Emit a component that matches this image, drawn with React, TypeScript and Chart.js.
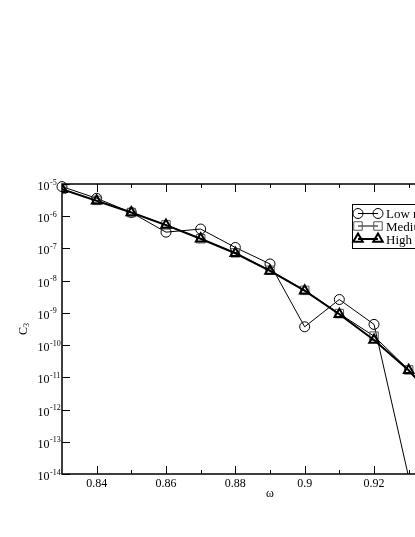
import React, { useEffect, useRef } from "react";
import { Chart, registerables } from "chart.js";

Chart.register(...registerables);

// ---- data ----
const omegaLow = [0.83, 0.84, 0.85, 0.86, 0.87, 0.88, 0.89, 0.9, 0.91, 0.92, 0.93];
const omegaMedHigh = [0.83, 0.84, 0.85, 0.86, 0.87, 0.88, 0.89, 0.9, 0.91, 0.92, 0.93, 0.94];
const lowRes = [8.3e-6, 3.6e-6, 1.3e-6, 3.2e-7, 4.0e-7, 1.07e-7, 3.3e-8, 3.7e-10, 2.6e-9, 4.4e-10, 8e-15];
const mediumRes = [6.9e-6, 3.1e-6, 1.3e-6, 5.4e-7, 2.0e-7, 7.3e-8, 2.1e-8, 5.0e-9, 9.5e-10, 1.9e-10, 1.7e-11, 1.2e-12];
const highRes = [6.9e-6, 3.0e-6, 1.3e-6, 5.3e-7, 2.0e-7, 7.1e-8, 2.0e-8, 4.9e-9, 9.1e-10, 1.45e-10, 1.66e-11, 1.1e-12];
const seriesLabels = ["Low resolution", "Medium resolution", "High resolution"];
const xMajorTicks = [0.84, 0.86, 0.88, 0.9, 0.92, 0.94];
const xMajorLabels = ["0.84", "0.86", "0.88", "0.9", "0.92", "0.94"];
const xMinorTicks = [0.85, 0.87, 0.89, 0.91, 0.93];
const yExponents = [-5, -6, -7, -8, -9, -10, -11, -12, -13, -14];
const xTitle = "ω";
const yTitle = "C";
const yTitleSub = "3";

const X_MIN = 0.83;
const X_MAX = 0.95;
const Y_MIN = 1e-14;
const Y_MAX = 1e-5;

const SERIF = '"Liberation Serif", "Times New Roman", serif';

function toPoints(xs: number[], ys: number[]) {
  return xs.map((x, i) => ({ x, y: ys[i] }));
}

function drawMarker(ctx: CanvasRenderingContext2D, style: string, x: number, y: number) {
  ctx.beginPath();
  if (style === "circle") {
    ctx.lineWidth = 1;
    ctx.strokeStyle = "#000";
    ctx.arc(x, y, 5, 0, Math.PI * 2);
  } else if (style === "rect") {
    ctx.lineWidth = 1;
    ctx.strokeStyle = "#555";
    const s = 6 * Math.SQRT1_2;
    ctx.rect(x - s, y - s, 2 * s, 2 * s);
  } else {
    ctx.lineWidth = 2;
    ctx.strokeStyle = "#000";
    const r = 5.5;
    ctx.moveTo(x, y - r);
    ctx.lineTo(x + 0.866 * r, y + 0.5 * r);
    ctx.lineTo(x - 0.866 * r, y + 0.5 * r);
    ctx.closePath();
  }
  ctx.stroke();
}

const framePlugin = {
  id: "xmgraceFrame",
  afterDraw(chart: any) {
    const ctx: CanvasRenderingContext2D = chart.ctx;
    const { left, right, top, bottom } = chart.chartArea;
    const xs = chart.scales.x;
    const ys = chart.scales.y;
    ctx.save();

    // frame
    ctx.strokeStyle = "#000";
    ctx.lineWidth = 1.5;
    ctx.strokeRect(left, top, right - left, bottom - top);

    // ticks
    ctx.lineWidth = 1;
    ctx.beginPath();
    xMajorTicks.forEach((v) => {
      const px = Math.round(xs.getPixelForValue(v)) + 0.5;
      ctx.moveTo(px, bottom);
      ctx.lineTo(px, bottom - 8);
      ctx.moveTo(px, top);
      ctx.lineTo(px, top + 8);
    });
    xMinorTicks.forEach((v) => {
      const px = Math.round(xs.getPixelForValue(v)) + 0.5;
      ctx.moveTo(px, bottom);
      ctx.lineTo(px, bottom - 4);
      ctx.moveTo(px, top);
      ctx.lineTo(px, top + 4);
    });
    yExponents.forEach((e) => {
      const py = Math.round(ys.getPixelForValue(Math.pow(10, e))) + 0.5;
      ctx.moveTo(left, py);
      ctx.lineTo(left + 8, py);
      ctx.moveTo(right, py);
      ctx.lineTo(right - 8, py);
    });
    ctx.stroke();

    // x tick labels
    ctx.fillStyle = "#000";
    ctx.font = `12px ${SERIF}`;
    ctx.textAlign = "center";
    ctx.textBaseline = "alphabetic";
    xMajorTicks.forEach((v, i) => {
      ctx.fillText(xMajorLabels[i], xs.getPixelForValue(v), bottom + 13);
    });

    // y tick labels 10^e
    yExponents.forEach((e) => {
      const py = ys.getPixelForValue(Math.pow(10, e));
      ctx.font = `12px ${SERIF}`;
      ctx.textAlign = "right";
      ctx.fillText("10", 49.5, py + 6);
      ctx.font = `8px ${SERIF}`;
      ctx.textAlign = "left";
      ctx.fillText(String(e), 50, py + 0.5);
    });

    // x title
    ctx.font = `12px ${SERIF}`;
    ctx.textAlign = "center";
    ctx.fillText(xTitle, (left + right) / 2, bottom + 23);

    // y title (rotated)
    ctx.save();
    const cy = (top + bottom) / 2;
    ctx.translate(26.5, cy + 6);
    ctx.rotate(-Math.PI / 2);
    ctx.textAlign = "left";
    ctx.font = `12px ${SERIF}`;
    ctx.fillText(yTitle, 0, 0);
    const cw = ctx.measureText(yTitle).width;
    ctx.font = `8px ${SERIF}`;
    ctx.fillText(yTitleSub, cw, 2);
    ctx.restore();

    // legend
    const lx = 352.5;
    const ly = 204.5;
    ctx.lineWidth = 1;
    ctx.strokeStyle = "#000";
    ctx.strokeRect(lx, ly, 130, 44);
    const rows = [213.5, 226, 239];
    const styles = ["circle", "rect", "triangle"];
    const lineW = [1, 1, 2];
    rows.forEach((ry, i) => {
      ctx.beginPath();
      ctx.lineWidth = lineW[i];
      ctx.strokeStyle = "#000";
      ctx.moveTo(358, ry);
      ctx.lineTo(378, ry);
      ctx.stroke();
      drawMarker(ctx, styles[i], 358, ry);
      drawMarker(ctx, styles[i], 378, ry);
      ctx.fillStyle = "#000";
      ctx.font = `13px ${SERIF}`;
      ctx.textAlign = "left";
      ctx.textBaseline = "alphabetic";
      ctx.fillText(seriesLabels[i], 386, ry + 4.5);
    });

    ctx.restore();
  },
};

export default function App() {
  const ref = useRef<HTMLCanvasElement | null>(null);

  useEffect(() => {
    if (!ref.current) return;
    const chart = new Chart(ref.current, {
      type: "line",
      data: {
        datasets: [
          {
            label: seriesLabels[0],
            data: toPoints(omegaLow, lowRes),
            borderColor: "#000",
            borderWidth: 1,
            pointStyle: "circle",
            pointRadius: (c: any) => (c.raw && c.raw.y < Y_MIN ? 0 : 5),
            pointBorderWidth: 1,
            pointBorderColor: "#000",
            pointBackgroundColor: "rgba(0,0,0,0)",
            tension: 0,
            order: 3,
            clip: { left: 8, top: 8, right: 8, bottom: 0 } as any,
          },
          {
            label: seriesLabels[1],
            data: toPoints(omegaMedHigh, mediumRes),
            borderColor: "#000",
            borderWidth: 1,
            pointStyle: "rect",
            pointRadius: 6,
            pointBorderWidth: 1,
            pointBorderColor: "#555",
            pointBackgroundColor: "rgba(0,0,0,0)",
            tension: 0,
            order: 2,
          },
          {
            label: seriesLabels[2],
            data: toPoints(omegaMedHigh, highRes),
            borderColor: "#000",
            borderWidth: 2,
            pointStyle: "triangle",
            pointRadius: 5.5,
            pointBorderWidth: 2,
            pointBorderColor: "#000",
            pointBackgroundColor: "rgba(0,0,0,0)",
            tension: 0,
            order: 1,
          },
        ],
      },
      options: {
        animation: false,
        responsive: false,
        maintainAspectRatio: false,
        devicePixelRatio: 1,
        layout: { padding: { left: 62, top: 184, right: 52, bottom: 63 } },
        scales: {
          x: { type: "linear", min: X_MIN, max: X_MAX, display: false },
          y: { type: "logarithmic", min: Y_MIN, max: Y_MAX, display: false },
        },
        plugins: {
          legend: { display: false },
          tooltip: { enabled: false },
        },
        events: [],
      },
      plugins: [framePlugin],
    } as any);
    return () => chart.destroy();
  }, []);

  return (
    <div
      style={{
        position: "absolute",
        left: 0,
        top: 0,
        width: 415,
        height: 537,
        overflow: "hidden",
        background: "#fff",
      }}
    >
      <canvas ref={ref} width={530} height={537} style={{ display: "block", width: 530, height: 537 }} />
    </div>
  );
}
